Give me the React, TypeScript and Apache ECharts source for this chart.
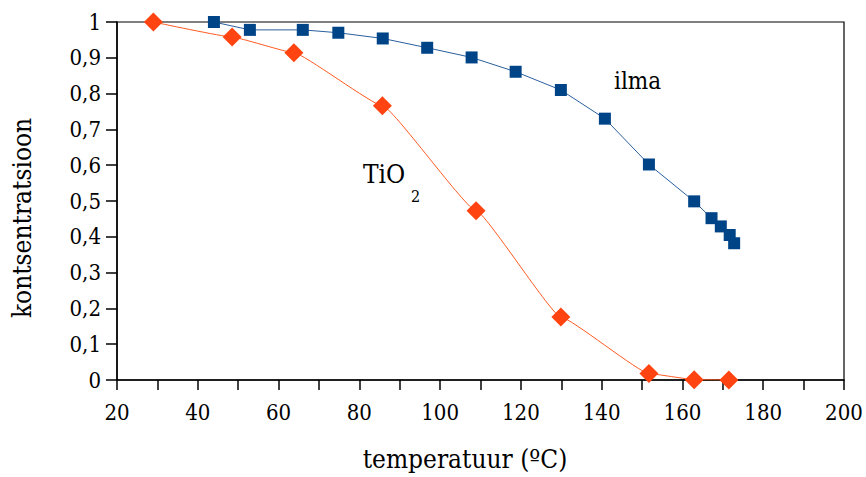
import React, { useEffect, useRef } from "react";
import * as echarts from "echarts";

const tio2Temp = [29, 48.5, 63.8, 85.7, 108.9, 129.9, 151.7, 162.9, 171.5];
const tio2Conc = [1.0, 0.958, 0.914, 0.766, 0.473, 0.176, 0.018, 0.001, 0.0];
const ilmaTemp = [44, 52.9, 66, 74.8, 85.8, 96.8, 107.8, 118.7, 129.9, 140.8, 151.7, 162.9, 167.2, 169.5, 171.7, 172.8];
const ilmaConc = [1.0, 0.978, 0.978, 0.97, 0.954, 0.928, 0.901, 0.861, 0.81, 0.73, 0.602, 0.499, 0.452, 0.429, 0.405, 0.382];

const xTitle = "temperatuur (ºC)";
const yTitle = "kontsentratsioon";
const ilmaLabel = "ilma";
const tio2Label = "TiO";
const tio2Sub = "2";

const FONT = "DejaVu Serif Condensed";

export default function App() {
  const ref = useRef<HTMLDivElement>(null);
  useEffect(() => {
    document.body.style.margin = "0";
    if (!ref.current) return;
    const chart = echarts.init(ref.current, undefined, { renderer: "svg" });
    chart.setOption({
      animation: false,
      backgroundColor: "#ffffff",
      grid: {
        left: 117, top: 22, right: 22, bottom: 97, show: true,
        borderColor: "#000", borderWidth: 1.2, backgroundColor: "transparent",
      },
      xAxis: {
        type: "value", min: 20, max: 200, interval: 10,
        splitLine: { show: false },
        axisLine: { lineStyle: { color: "#000", width: 1.5 } },
        axisTick: { length: 10, lineStyle: { color: "#000", width: 1.5 } },
        axisLabel: {
          margin: 21, color: "#000", fontFamily: FONT, fontSize: 22,
          formatter: (v: number) => (Math.round(v) % 20 === 0 ? String(Math.round(v)) : ""),
        },
      },
      yAxis: {
        type: "value", min: 0, max: 1, interval: 0.1,
        splitLine: { show: false },
        axisLine: { lineStyle: { color: "#000", width: 1.5 } },
        axisTick: { length: 11, lineStyle: { color: "#000", width: 1.5 } },
        axisLabel: {
          margin: 16, color: "#000", fontFamily: FONT, fontSize: 22,
          formatter: (v: number) => String(Math.round(v * 10) / 10).replace(".", ","),
        },
      },
      series: [
        {
          name: "ilma", type: "line",
          data: ilmaTemp.map((t, i) => [t, ilmaConc[i]]),
          symbol: "rect", symbolSize: 12,
          lineStyle: { color: "#2A5F9E", width: 1 }, itemStyle: { color: "#004488" }, z: 2,
        },
        {
          name: "TiO2", type: "line",
          data: tio2Temp.map((t, i) => [t, tio2Conc[i]]),
          symbol: "diamond", symbolSize: 19, smooth: 0.1, smoothMonotone: "x",
          lineStyle: { color: "#FF5A22", width: 1 }, itemStyle: { color: "#FF4411" }, z: 3,
        },
      ],
      graphic: [
        { type: "text", left: 614, top: 69, style: { text: ilmaLabel, fontFamily: FONT, fontSize: 24, fill: "#000" } },
        { type: "text", left: 363, top: 161, style: { text: tio2Label, fontFamily: FONT, fontSize: 26, fill: "#000" } },
        { type: "text", left: 411, top: 188, style: { text: tio2Sub, fontFamily: FONT, fontSize: 16, fill: "#000" } },
        {
          type: "text", x: 465, y: 459,
          style: { text: xTitle, fontFamily: FONT, fontSize: 26, fill: "#000", align: "center", verticalAlign: "middle" },
        },
        {
          type: "text", x: 22, y: 218, rotation: Math.PI / 2,
          style: { text: yTitle, fontFamily: FONT, fontSize: 26, fill: "#000", align: "center", verticalAlign: "middle" },
        },
      ],
    });
    return () => chart.dispose();
  }, []);
  return <div ref={ref} style={{ width: 866, height: 477 }} />;
}
